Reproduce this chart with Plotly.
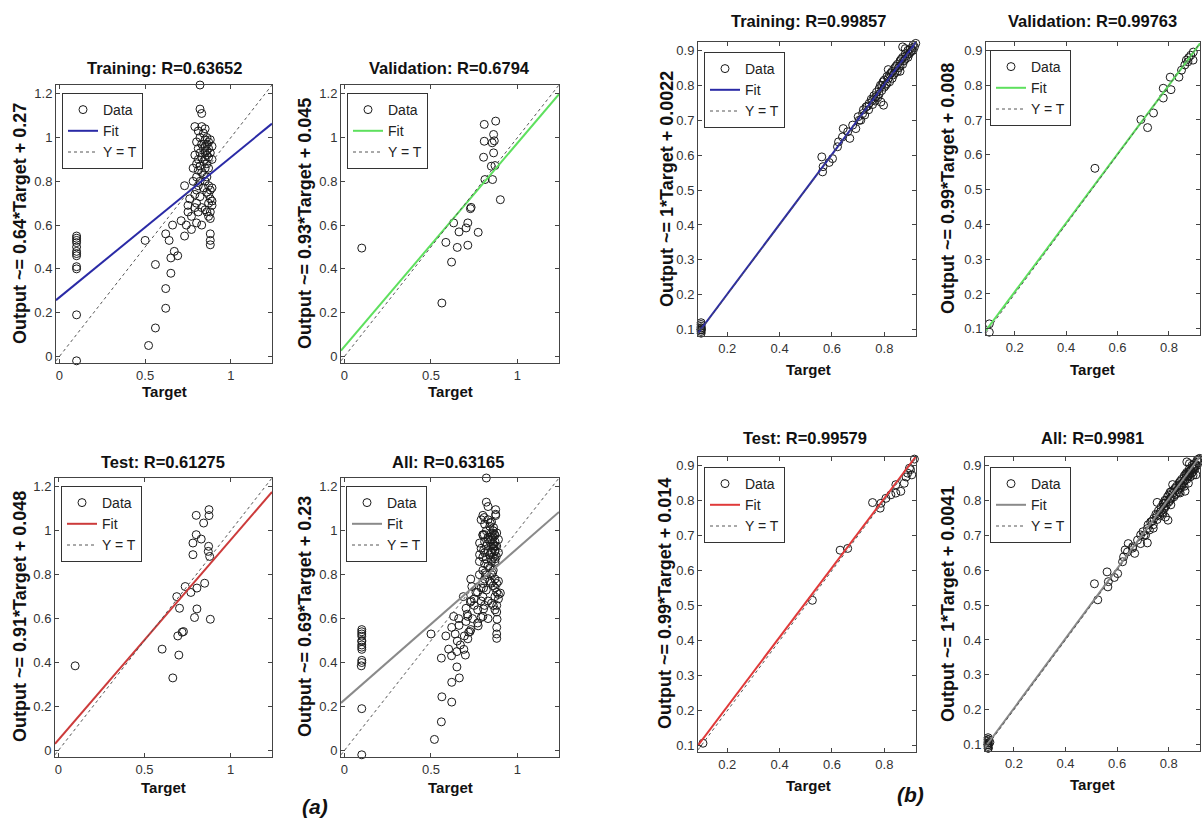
import plotly.graph_objects as go

W, H = 1202, 834
NARROW = "Liberation Sans, Arial, sans-serif"
REG = "Liberation Sans, Arial, sans-serif"

# ================= DATA: panel set (a) =================
a_train_pts = [
    (0.10, 0.55), (0.10, 0.54), (0.10, 0.53), (0.10, 0.52), (0.10, 0.50), (0.10, 0.48),
    (0.10, 0.47), (0.10, 0.46), (0.10, 0.41), (0.10, 0.40), (0.10, 0.19), (0.10, -0.02),
    (0.50, 0.53), (0.52, 0.05), (0.56, 0.13), (0.56, 0.42), (0.62, 0.56), (0.64, 0.53),
    (0.62, 0.31), (0.62, 0.22), (0.65, 0.38), (0.65, 0.45), (0.67, 0.48), (0.69, 0.46),
    (0.66, 0.60), (0.71, 0.62), (0.73, 0.55), (0.73, 0.78), (0.74, 0.60), (0.75, 0.69),
    (0.75, 0.66), (0.76, 0.72), (0.77, 0.58), (0.77, 0.64),
    (0.78, 0.80), (0.78, 0.86), (0.79, 0.74), (0.79, 0.68), (0.79, 0.92), (0.79, 1.05),
    (0.80, 0.98), (0.80, 0.88), (0.80, 0.82), (0.80, 0.76), (0.80, 0.70), (0.80, 0.61),
    (0.81, 1.03), (0.81, 0.95), (0.81, 0.90), (0.81, 0.85), (0.81, 0.78), (0.81, 0.66),
    (0.82, 1.24), (0.82, 1.13), (0.82, 1.00), (0.82, 0.93), (0.82, 0.87), (0.82, 0.80),
    (0.82, 0.73), (0.83, 1.11), (0.83, 1.05), (0.83, 0.97), (0.83, 0.91), (0.83, 0.84),
    (0.83, 0.68), (0.83, 0.60), (0.84, 1.02), (0.84, 0.95), (0.84, 0.89), (0.84, 0.83),
    (0.84, 0.77), (0.85, 1.04), (0.85, 0.99), (0.85, 0.96), (0.85, 0.93), (0.85, 0.90),
    (0.85, 0.86), (0.85, 0.80), (0.85, 0.67), (0.86, 1.00), (0.86, 0.97), (0.86, 0.94),
    (0.86, 0.92), (0.86, 0.88), (0.86, 0.82), (0.86, 0.75), (0.86, 0.66), (0.87, 0.98),
    (0.87, 0.95), (0.87, 0.91), (0.87, 0.86), (0.87, 0.78), (0.87, 0.74), (0.87, 0.70),
    (0.87, 0.64), (0.88, 0.99), (0.88, 0.93), (0.88, 0.76), (0.88, 0.72), (0.88, 0.66),
    (0.88, 0.63), (0.88, 0.56), (0.88, 0.53), (0.88, 0.51), (0.89, 0.96), (0.89, 0.90),
    (0.89, 0.77), (0.89, 0.71), (0.89, 0.69),
]
a_val_pts = [
    (0.10, 0.495), (0.563, 0.244), (0.586, 0.521), (0.619, 0.431), (0.631, 0.61),
    (0.652, 0.498), (0.662, 0.569), (0.713, 0.508), (0.713, 0.61), (0.703, 0.587),
    (0.728, 0.675), (0.732, 0.681), (0.773, 0.567), (0.808, 1.06), (0.808, 0.983),
    (0.804, 0.91), (0.812, 0.808), (0.856, 0.808), (0.874, 1.075), (0.862, 1.014),
    (0.854, 0.976), (0.862, 0.93), (0.849, 0.869), (0.87, 0.872), (0.901, 0.716),
    (0.866, 0.985),
]
a_test_pts = [
    (0.097, 0.385), (0.602, 0.461), (0.664, 0.33), (0.699, 0.434), (0.693, 0.521),
    (0.718, 0.538), (0.726, 0.541), (0.703, 0.647), (0.687, 0.70), (0.736, 0.746),
    (0.769, 0.719), (0.804, 0.739), (0.849, 0.761), (0.804, 0.644), (0.79, 0.605),
    (0.882, 0.597), (0.781, 0.891), (0.781, 0.944), (0.80, 0.982), (0.829, 0.962),
    (0.80, 1.07), (0.843, 1.035), (0.874, 1.096), (0.874, 1.069), (0.87, 0.906),
    (0.872, 0.929), (0.878, 0.883),
]
a_all_pts = a_train_pts + a_val_pts + a_test_pts

a_slope = [0.64, 0.93, 0.91, 0.69]
a_intercept = [0.27, 0.045, 0.048, 0.23]
a_titles = ["Training: R=0.63652", "Validation: R=0.6794", "Test: R=0.61275", "All: R=0.63165"]
a_ylabels = ["Output ~= 0.64*Target + 0.27", "Output ~= 0.93*Target + 0.045",
             "Output ~= 0.91*Target + 0.048", "Output ~= 0.69*Target + 0.23"]
a_xticks = [0, 0.5, 1]
a_xticktext = ["0", "0.5", "1"]
a_yticks = [0, 0.2, 0.4, 0.6, 0.8, 1.0, 1.2]
a_yticktext = ["0", "0.2", "0.4", "0.6", "0.8", "1", "1.2"]

# ================= DATA: panel set (b) =================
b_train_pts = [
    (0.10, 0.09), (0.10, 0.095), (0.10, 0.10), (0.10, 0.10), (0.10, 0.105), (0.10, 0.11),
    (0.10, 0.115), (0.10, 0.12), (0.10, 0.105), (0.10, 0.10),
    (0.561, 0.595), (0.564, 0.552), (0.566, 0.567), (0.589, 0.579), (0.602, 0.59),
    (0.621, 0.624), (0.625, 0.638), (0.64, 0.652), (0.643, 0.676), (0.66, 0.667),
    (0.668, 0.648), (0.679, 0.686), (0.691, 0.676), (0.704, 0.70), (0.717, 0.719),
    (0.73, 0.738), (0.742, 0.748), (0.755, 0.757), (0.768, 0.767), (0.787, 0.752),
    (0.797, 0.743),
    (0.70, 0.71), (0.71, 0.70), (0.72, 0.73), (0.725, 0.715), (0.735, 0.74), (0.74, 0.73),
    (0.75, 0.76), (0.755, 0.745), (0.76, 0.77), (0.765, 0.755), (0.77, 0.78), (0.775, 0.765),
    (0.78, 0.79), (0.78, 0.775), (0.785, 0.80), (0.79, 0.785), (0.79, 0.80), (0.795, 0.81),
    (0.80, 0.795), (0.80, 0.815), (0.805, 0.80), (0.81, 0.825), (0.81, 0.805), (0.815, 0.82),
    (0.82, 0.83), (0.82, 0.81), (0.825, 0.835), (0.83, 0.82), (0.83, 0.84), (0.835, 0.83),
    (0.84, 0.85), (0.84, 0.835), (0.845, 0.855), (0.85, 0.84), (0.85, 0.86), (0.855, 0.85),
    (0.86, 0.87), (0.86, 0.855), (0.865, 0.875), (0.87, 0.86), (0.87, 0.88), (0.875, 0.87),
    (0.88, 0.89), (0.88, 0.875), (0.885, 0.885), (0.89, 0.90), (0.89, 0.88), (0.895, 0.89),
    (0.90, 0.905), (0.90, 0.895), (0.905, 0.90), (0.91, 0.915), (0.91, 0.90), (0.915, 0.91),
    (0.92, 0.92), (0.87, 0.91), (0.815, 0.845), (0.86, 0.84), (0.88, 0.905),
]
b_val_pts = [
    (0.101, 0.114), (0.101, 0.09), (0.512, 0.561), (0.691, 0.701), (0.717, 0.678),
    (0.74, 0.72), (0.778, 0.791), (0.778, 0.763), (0.808, 0.787), (0.805, 0.823),
    (0.839, 0.823), (0.849, 0.843), (0.862, 0.858), (0.868, 0.872), (0.877, 0.879),
    (0.885, 0.886), (0.894, 0.872), (0.874, 0.867), (0.895, 0.895),
]
b_test_pts = [
    (0.107, 0.107), (0.525, 0.515), (0.631, 0.658), (0.66, 0.663), (0.755, 0.794),
    (0.784, 0.778), (0.787, 0.792), (0.806, 0.806), (0.825, 0.816), (0.844, 0.821),
    (0.844, 0.845), (0.863, 0.826), (0.876, 0.849), (0.883, 0.867), (0.889, 0.878),
    (0.90, 0.888), (0.905, 0.873), (0.896, 0.892), (0.915, 0.918),
]
b_all_pts = b_train_pts + b_val_pts + b_test_pts

b_slope = [1.0, 0.99, 0.99, 1.0]
b_intercept = [0.0022, 0.008, 0.014, 0.0041]
b_titles = ["Training: R=0.99857", "Validation: R=0.99763", "Test: R=0.99579", "All: R=0.9981"]
b_ylabels = ["Output ~= 1*Target + 0.0022", "Output ~= 0.99*Target + 0.008",
             "Output ~= 0.99*Target + 0.014", "Output ~= 1*Target + 0.0041"]
b_xticks = [0.2, 0.4, 0.6, 0.8]
b_yticks = [0.1, 0.2, 0.3, 0.4, 0.5, 0.6, 0.7, 0.8, 0.9]

fit_colors = ["#2a2aa6", "#5ee05e", "#cc3b3b", "#8a8a8a"]
fit_colors_b = ["#2a2aa6", "#5ee05e", "#e03a3a", "#8a8a8a"]

# ================= LAYOUT of panels (pixels) =================
panels = [
    dict(pts=a_train_pts, s=a_slope[0], b=a_intercept[0], col=fit_colors[0], title=a_titles[0], ylab=a_ylabels[0],
         box=(56, 85, 272, 363), t=(164, 68), xl=(164, 392), yl=(20, 224), lg=(62, 93), set="a"),
    dict(pts=a_val_pts, s=a_slope[1], b=a_intercept[1], col=fit_colors[1], title=a_titles[1], ylab=a_ylabels[1],
         box=(341, 85, 559, 363), t=(449, 68), xl=(450, 392), yl=(305, 224), lg=(347, 93), set="a"),
    dict(pts=a_test_pts, s=a_slope[2], b=a_intercept[2], col=fit_colors[2], title=a_titles[2], ylab=a_ylabels[2],
         box=(55, 478, 272, 757), t=(163, 462), xl=(163, 787), yl=(20, 617), lg=(61, 486), set="a"),
    dict(pts=a_all_pts, s=a_slope[3], b=a_intercept[3], col=fit_colors[3], title=a_titles[3], ylab=a_ylabels[3],
         box=(341, 478, 559, 757), t=(448, 462), xl=(450, 787), yl=(305, 617), lg=(346, 486), set="a"),
    dict(pts=b_train_pts, s=b_slope[0], b=b_intercept[0], col=fit_colors_b[0], title=b_titles[0], ylab=b_ylabels[0],
         box=(698, 42, 916, 336), t=(808, 21), xl=(808, 369), yl=(667, 189), lg=(704, 52), set="b"),
    dict(pts=b_val_pts, s=b_slope[1], b=b_intercept[1], col=fit_colors_b[1], title=b_titles[1], ylab=b_ylabels[1],
         box=(986, 42, 1200, 335), t=(1092, 21), xl=(1092, 369), yl=(948, 189), lg=(990, 50), set="b"),
    dict(pts=b_test_pts, s=b_slope[2], b=b_intercept[2], col=fit_colors_b[2], title=b_titles[2], ylab=b_ylabels[2],
         box=(698, 457, 916, 752), t=(805, 438), xl=(808, 785), yl=(665, 604), lg=(704, 467), set="b"),
    dict(pts=b_all_pts, s=b_slope[3], b=b_intercept[3], col=fit_colors_b[3], title=b_titles[3], ylab=b_ylabels[3],
         box=(985, 457, 1200, 751), t=(1092, 438), xl=(1092, 784), yl=(948, 604), lg=(990, 467), set="b"),
]

RANGES = {
    "a": dict(x=[-0.02, 1.24], y=[-0.03, 1.24]),
    "b": dict(x=[0.088, 0.921], y=[0.082, 0.924]),
}

fig = go.Figure()
annotations = []
layout_upd = {}

axis_common = dict(showgrid=False, zeroline=False, showline=True, linecolor="#444", linewidth=1,
                   mirror="ticks", ticks="inside", ticklen=4, tickcolor="#444", tickwidth=1,
                   tickfont=dict(family=NARROW, size=13, color="#333"))

for i, p in enumerate(panels):
    n = i + 1
    sfx = "" if n == 1 else str(n)
    xa, ya = "x" + sfx, "y" + sfx
    lg = "legend" + sfx
    xr = RANGES[p["set"]]["x"]
    yr = RANGES[p["set"]]["y"]
    px = [q[0] for q in p["pts"]]
    py = [q[1] for q in p["pts"]]

    fig.add_trace(go.Scatter(x=px, y=py, mode="markers", name="Data",
                             marker=dict(symbol="circle-open", size=8, color="#1a1a1a", line=dict(width=1)),
                             xaxis=xa, yaxis=ya, legend=lg, cliponaxis=False))
    fx = [xr[0], xr[1]]
    fy = [p["s"] * v + p["b"] for v in fx]
    fig.add_trace(go.Scatter(x=fx, y=fy, mode="lines", name="Fit",
                             line=dict(color=p["col"], width=2), xaxis=xa, yaxis=ya, legend=lg))
    fig.add_trace(go.Scatter(x=fx, y=fx, mode="lines", name="Y = T",
                             line=dict(color="#555", width=1, dash="3px,3px"), xaxis=xa, yaxis=ya, legend=lg))

    l, t, r, btm = p["box"]
    if p["set"] == "a":
        xt = dict(tickvals=a_xticks, ticktext=a_xticktext)
        yt = dict(tickvals=a_yticks, ticktext=a_yticktext)
    else:
        xt = dict(tickvals=b_xticks, ticktext=[str(v) for v in b_xticks])
        yt = dict(tickvals=b_yticks, ticktext=[str(v) for v in b_yticks])
    layout_upd["xaxis" + sfx] = dict(domain=[l / W, r / W], range=xr, anchor=ya, **xt, **axis_common)
    layout_upd["yaxis" + sfx] = dict(domain=[1 - btm / H, 1 - t / H], range=yr, anchor=xa, **yt, **axis_common)
    layout_upd[lg] = dict(x=p["lg"][0] / W, y=1 - p["lg"][1] / H, xanchor="left", yanchor="top",
                          bgcolor="white", bordercolor="#333", borderwidth=1,
                          font=dict(family=NARROW, size=14, color="#222"), itemwidth=30,
                          tracegroupgap=0)

    annotations.append(dict(text="<b>%s</b>" % p["title"], x=p["t"][0] / W, y=1 - p["t"][1] / H,
                            xref="paper", yref="paper", showarrow=False, xanchor="center", yanchor="middle",
                            font=dict(family=NARROW, size=16.5, color="#111")))
    annotations.append(dict(text="<b>Target</b>", x=p["xl"][0] / W, y=1 - p["xl"][1] / H,
                            xref="paper", yref="paper", showarrow=False, xanchor="center", yanchor="middle",
                            font=dict(family=NARROW, size=15, color="#111")))
    annotations.append(dict(text="<b>%s</b>" % p["ylab"], x=p["yl"][0] / W, y=1 - p["yl"][1] / H,
                            xref="paper", yref="paper", showarrow=False, xanchor="center", yanchor="middle",
                            textangle=-90, font=dict(family=REG, size=18, color="#111")))

annotations.append(dict(text="<b><i>(a)</i></b>", x=300 / W, y=1 - 820 / H, xref="paper", yref="paper",
                        showarrow=False, font=dict(family=NARROW, size=21, color="#111")))
annotations.append(dict(text="<b><i>(b)</i></b>", x=926 / W, y=1 - 808 / H, xref="paper", yref="paper",
                        showarrow=False, font=dict(family=NARROW, size=21, color="#111")))

fig.update_layout(width=W, height=H, margin=dict(l=0, r=0, t=0, b=0),
                  paper_bgcolor="white", plot_bgcolor="white", hovermode=False,
                  annotations=annotations, **layout_upd)

fig.write_html("out.html", config={"displayModeBar": False},
               post_script="document.body.style.margin='0';document.body.style.overflow='hidden';")
